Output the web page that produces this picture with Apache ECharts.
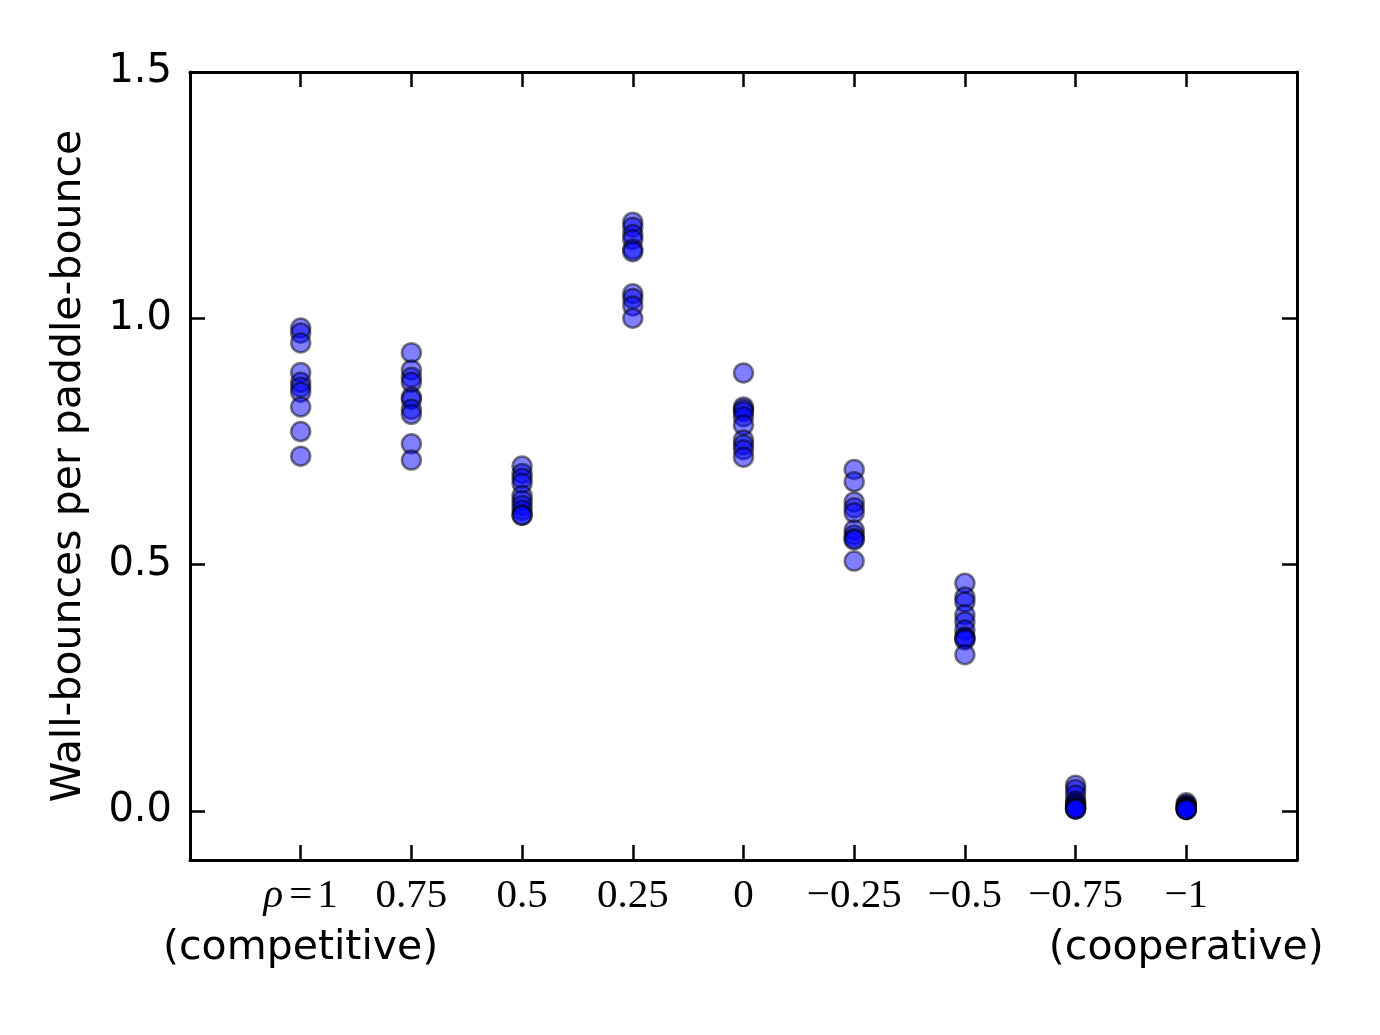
<!DOCTYPE html>
<html>
<head>
<meta charset="utf-8">
<script src="https://cdn.jsdelivr.net/npm/echarts@6/dist/echarts.min.js"></script>
<style>
html,body{margin:0;padding:0;background:#fff;}
#chart{width:1380px;height:1035px;}
</style>
</head>
<body>
<div id="chart"></div>
<script>
// rho categories (left = competitive, right = cooperative)
const rhoLabels = ['ρ=1', '0.75', '0.5', '0.25', '0', '−0.25', '−0.5', '−0.75', '−1'];
const rhoNotes = ['(competitive)', '', '', '', '', '', '', '', '(cooperative)'];

// wall-bounces per paddle-bounce, one list per rho
const rho_p100 = [0.98, 0.97, 0.95, 0.89, 0.87, 0.86, 0.85, 0.82, 0.77, 0.72];
const rho_p075 = [0.93, 0.895, 0.88, 0.87, 0.84, 0.835, 0.815, 0.805, 0.745, 0.712];
const rho_p050 = [0.70, 0.685, 0.675, 0.665, 0.64, 0.63, 0.62, 0.61, 0.60, 0.60];
const rho_p025 = [1.195, 1.185, 1.17, 1.16, 1.14, 1.135, 1.05, 1.04, 1.025, 1.00];
const rho_000 = [0.889, 0.82, 0.815, 0.81, 0.80, 0.783, 0.753, 0.743, 0.733, 0.718];
const rho_m025 = [0.693, 0.668, 0.627, 0.615, 0.605, 0.570, 0.560, 0.553, 0.550, 0.507];
const rho_m050 = [0.462, 0.434, 0.424, 0.398, 0.384, 0.367, 0.353, 0.350, 0.347, 0.317];
const rho_m075 = [0.052, 0.043, 0.032, 0.020, 0.015, 0.012, 0.008, 0.005, 0.004, 0.003];
const rho_m100 = [0.016, 0.012, 0.010, 0.008, 0.006, 0.005, 0.004, 0.003, 0.003, 0.002];

const groups = [rho_p100, rho_p075, rho_p050, rho_p025, rho_000, rho_m025, rho_m050, rho_m075, rho_m100];

const yTicks = [0, 0.5, 1.0, 1.5];
const yTickLabels = ['0.0', '0.5', '1.0', '1.5'];
const xTicks = rhoLabels.map((_, i) => i);
const noteTicks = xTicks.filter(i => rhoNotes[i]);

const points = [];
groups.forEach((g, i) => g.forEach(v => points.push([i, v])));

const SANS = 'DejaVu Sans';
const SERIF = 'Liberation Serif';
const FS = 39;

const frameAxis = {
  splitLine: {show: false},
  axisLine: {show: true, onZero: false, lineStyle: {color: '#000', width: 3}},
};

const chart = echarts.init(document.getElementById('chart'), null, {renderer: 'canvas'});
chart.setOption({
  animation: false,
  backgroundColor: '#ffffff',
  grid: {left: 190, right: 83, top: 72, bottom: 175, show: false},
  xAxis: [{
    type: 'value', min: -1, max: 9, position: 'bottom',
    ...frameAxis,
    axisTick: {show: true, inside: true, length: 15, customValues: xTicks, lineStyle: {color: '#000', width: 2.5}},
    axisLabel: {
      show: true, margin: 14, customValues: xTicks, color: '#000',
      hideOverlap: false,
      formatter: function (v) {
        const s = rhoLabels[Math.round(v)];
        if (s.indexOf('ρ=') === 0) return '{i|ρ}{e|=}{m|' + s.slice(2) + '}';
        return '{m|' + s + '}';
      },
      rich: {
        m: {fontFamily: SERIF, fontSize: 41, color: '#000', lineHeight: 44, align: 'center'},
        e: {fontFamily: SERIF, fontSize: 41, color: '#000', lineHeight: 44, align: 'center', padding: [0, 5, 0, 0]},
        i: {fontFamily: SERIF, fontStyle: 'italic', fontSize: 41, color: '#000', lineHeight: 44, align: 'center', padding: [0, 6, 0, 0]}
      }
    }
  }, {
    type: 'value', min: -1, max: 9, position: 'top',
    ...frameAxis,
    axisTick: {show: true, inside: true, length: 15, customValues: xTicks, lineStyle: {color: '#000', width: 2.5}},
    axisLabel: {show: false}
  }, {
    type: 'value', min: -1, max: 9, position: 'bottom', offset: 0,
    splitLine: {show: false},
    axisLine: {show: false},
    axisTick: {show: false},
    axisLabel: {
      show: true, margin: 67, customValues: noteTicks, color: '#000',
      fontFamily: SANS, fontSize: 41, lineHeight: 42, hideOverlap: false,
      formatter: function (v) { return rhoNotes[Math.round(v)] || ''; }
    }
  }],
  yAxis: [{
    type: 'value', min: -0.1, max: 1.5, position: 'left',
    name: 'Wall-bounces per paddle-bounce', nameLocation: 'middle', nameGap: 100,
    nameTextStyle: {fontFamily: SANS, fontSize: 41, color: '#000'},
    ...frameAxis,
    axisTick: {show: true, inside: true, length: 15, customValues: yTicks, lineStyle: {color: '#000', width: 2.5}},
    axisLabel: {
      show: true, margin: 18, customValues: yTicks, color: '#000',
      fontFamily: SANS, fontSize: 40,
      formatter: function (v) {
        const i = yTicks.findIndex(t => Math.abs(t - v) < 1e-9);
        return i >= 0 ? yTickLabels[i] : '';
      }
    }
  }, {
    type: 'value', min: -0.1, max: 1.5, position: 'right',
    ...frameAxis,
    axisTick: {show: true, inside: true, length: 15, customValues: yTicks, lineStyle: {color: '#000', width: 2.5}},
    axisLabel: {show: false}
  }],
  series: [{
    type: 'scatter',
    xAxisIndex: 0, yAxisIndex: 0,
    data: points,
    symbol: 'circle',
    symbolSize: 19,
    itemStyle: {
      color: 'rgba(0,0,255,0.5)',
      borderColor: 'rgba(0,0,0,0.5)',
      borderWidth: 2.5,
      opacity: 1
    }
  }]
});
</script>
</body>
</html>
